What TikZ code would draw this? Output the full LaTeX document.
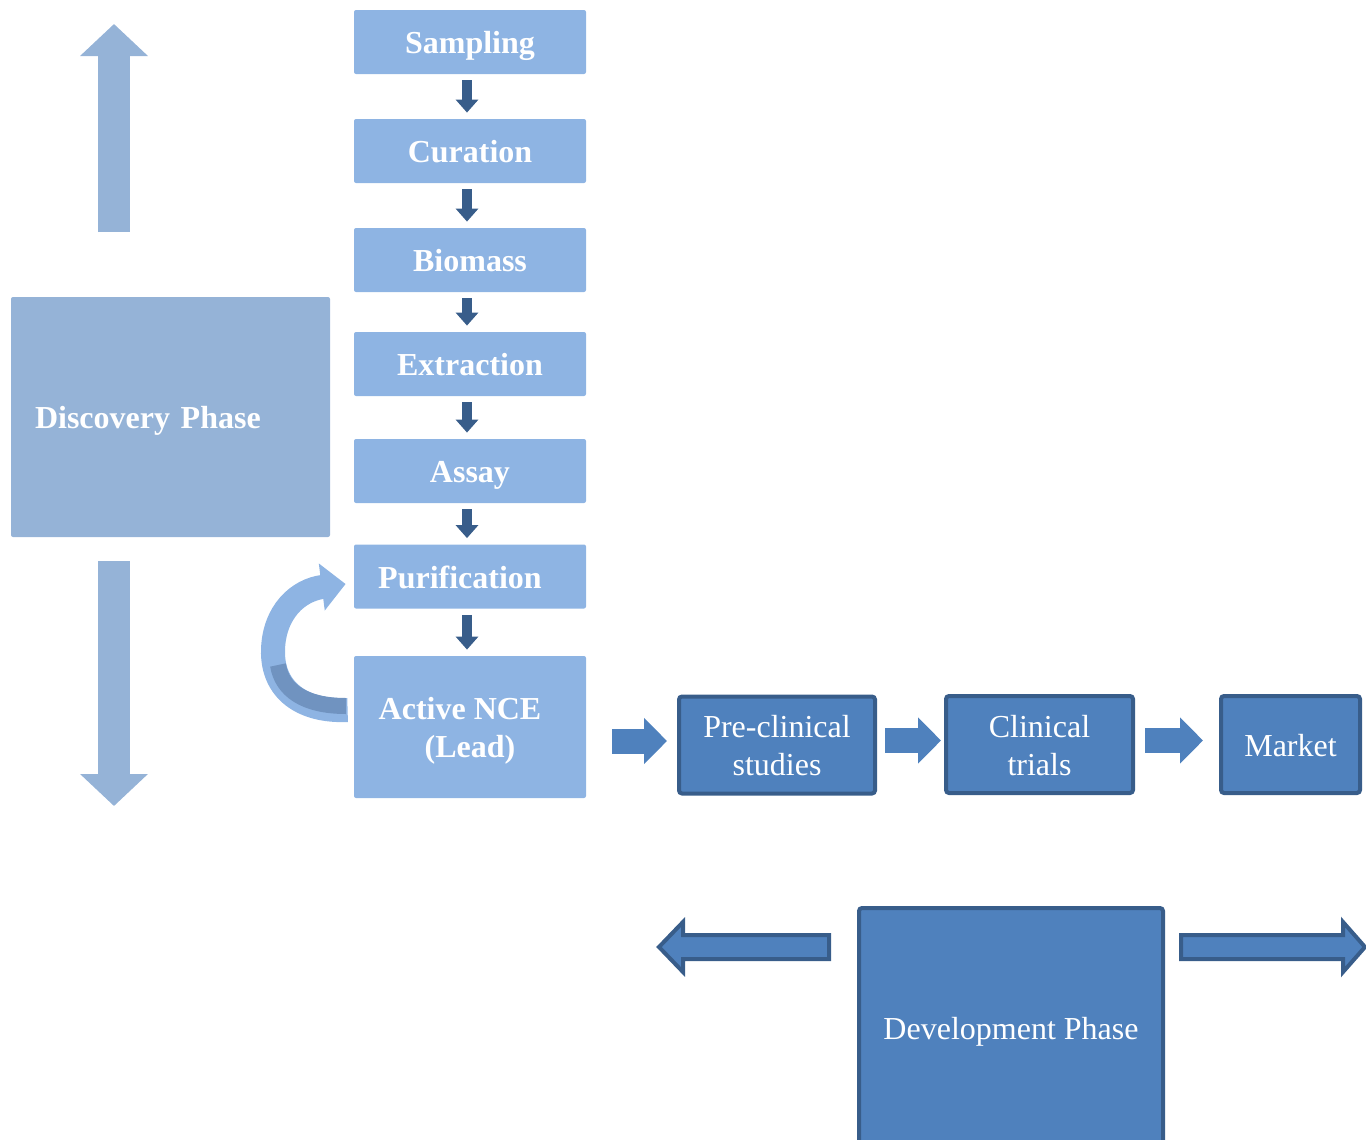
\documentclass[tikz,border=0pt]{standalone}
\usepackage{fontspec}
\setmainfont{Liberation Serif}
\usetikzlibrary{arrows.meta}
\definecolor{stepblue}{HTML}{8EB4E3}
\definecolor{phaseblue}{HTML}{95B3D7}
\definecolor{devblue}{HTML}{4F81BD}
\definecolor{darkblue}{HTML}{385D8A}
\definecolor{shadeblue}{HTML}{7093C0}
\tikzset{stepbox/.style={rectangle,fill=stepblue,text=white,minimum width=116pt,minimum height=32pt,inner sep=0pt,text height=12pt,text depth=0.5pt,rounded corners=1pt,font=\fontsize{16}{19}\selectfont\bfseries,align=center}}
\tikzset{phasebox/.style={rectangle,fill=phaseblue,text=white,minimum width=159.5pt,minimum height=120pt,text width=135.5pt,inner xsep=12pt,text height=12pt,text depth=0.5pt,rounded corners=1pt,font=\fontsize{16}{19}\selectfont\bfseries,align=left}}
\tikzset{devbox/.style={rectangle,fill=devblue,draw=darkblue,line width=2pt,text=white,minimum height=48.5pt,inner sep=0pt,text height=12pt,text depth=0.5pt,rounded corners=1.5pt,font=\fontsize{16}{19}\selectfont,align=center}}
\tikzset{twolines/.style={text height=31pt}}
\tikzset{steparrow/.style={draw=darkblue,line width=5pt,-{Triangle[width=11pt,length=6.5pt]},shorten <=3pt,shorten >=3pt}}
\tikzset{flowarrow/.style={draw=devblue,line width=12.5pt,-{Triangle[width=22.5pt,length=11.5pt]}}}
\tikzset{phasearrow/.style={draw=phaseblue,line width=16pt,-{Triangle[width=33pt,length=16pt]}}}
\tikzset{looparrow/.style={draw=stepblue,line width=12pt,-{Triangle[width=23pt,length=12pt]}}}
\tikzset{sidearrow/.style={fill=devblue,draw=darkblue,line width=2pt,line join=miter}}

\begin{document}
\begin{tikzpicture}[x=0.5pt,y=-0.5pt]
      \useasboundingbox (0,0) rectangle (1366,1140);
      \clip (0,0) rectangle (1366,1140);
      % discovery steps
      \node[stepbox] (samp) at (470,42) {Sampling};
      \node[stepbox] (cur) at (470,151) {Curation};
      \node[stepbox] (bio) at (470,260) {Biomass};
      \node[stepbox] (ext) at (470,364) {Extraction};
      \node[stepbox] (assay) at (470,471) {Assay};
      \node[stepbox] (pur) at (470,576.5) {\hspace*{-10pt}Purification};
      \node[stepbox,twolines,minimum height=71pt] (lead) at (470,727) {\hspace*{-10pt}Active NCE\\(Lead)};
      \node[phasebox] (disc) at (170.5,417) {Discovery Phase};
      % development steps
      \node[devbox,twolines,minimum width=98pt] (preclin) at (777,745) {Pre-clinical\\studies};
      \node[devbox,twolines,minimum width=93.5pt] (clin) at (1039.5,744.5) {Clinical\\trials};
      \node[devbox,minimum width=69.5pt] (market) at (1290.5,744.5) {Market};
      \node[devbox,minimum width=152pt,minimum height=120pt] (dev) at (1011,1028) {Development Phase};
        \draw[steparrow] ([xshift=-1.5pt]samp.south) -- ([xshift=-1.5pt]cur.north);
        \draw[steparrow] ([xshift=-1.5pt]cur.south) -- ([xshift=-1.5pt]bio.north);
        \draw[steparrow] ([xshift=-1.5pt]bio.south) -- ([xshift=-1.5pt]ext.north);
        \draw[steparrow] ([xshift=-1.5pt]ext.south) -- ([xshift=-1.5pt]assay.north);
        \draw[steparrow] ([xshift=-1.5pt]assay.south) -- ([xshift=-1.5pt]pur.north);
        \draw[steparrow] ([xshift=-1.5pt]pur.south) -- ([xshift=-1.5pt]lead.north);
        % lead back to purification
        \draw[looparrow] ([shift={(-6,-17)}]lead.west) .. controls (302,712) and (272,690) .. (273,650) .. controls (274,612) and (298,590) .. ([shift={(-8,7.5)}]pur.west);
        \draw[draw=shadeblue,line width=8pt] (346,706) .. controls (304,706) and (282,690) .. (278,665);
        % flow to market
        \coordinate (f1) at ([yshift=2pt]preclin.west);
        \coordinate (f2) at ([yshift=2pt]clin.west);
        \coordinate (f3) at ([yshift=2pt]market.west);
        \draw[flowarrow,shorten <=13pt,shorten >=5pt] (f1 -| lead.east) -- (f1);
        \draw[flowarrow,shorten <=4pt,shorten >=1.5pt] (f2 -| preclin.east) -- (f2);
        \draw[flowarrow,shorten <=5pt,shorten >=8pt] (f3 -| clin.east) -- (f3);
        % phase arrows
        \coordinate (uptip) at (114,24);
        \coordinate (upfoot) at (114,232);
        \coordinate (downtop) at (114,561);
        \coordinate (downtip) at (114,806);
        \draw[phasearrow] (upfoot) -- (uptip);
        \draw[phasearrow] (downtop) -- (downtip);
        \draw[sidearrow] (829,935) -- (683,935) -- (683,922) -- (659,947) -- (683,972) -- (683,959) -- (829,959) -- cycle;
        \draw[sidearrow] (1181,935) -- (1343,935) -- (1343,922) -- (1365,947) -- (1343,972) -- (1343,959) -- (1181,959) -- cycle;
    \end{tikzpicture}
\end{document}
